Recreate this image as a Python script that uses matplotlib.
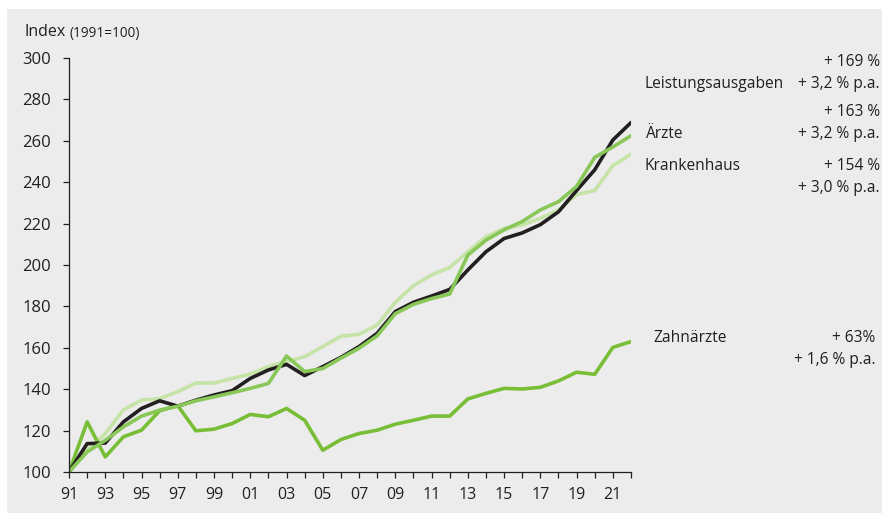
import matplotlib
matplotlib.use("Agg")
import matplotlib.pyplot as plt
from matplotlib.patches import Rectangle

plt.rcParams['font.family'] = ['Open Sans', 'DejaVu Sans']

years = list(range(1991, 2023))
leistungsausgaben = [100, 113.7, 114, 124.2, 130.7, 134.4, 131.8, 134.7, 137.2, 139.3,
                     145.2, 149.3, 152, 146.6, 150.9, 155.4, 160.6, 167, 177.5, 182,
                     185, 188.2, 197.6, 206.4, 212.8, 215.5, 219.5, 225.7, 236, 246,
                     260.4, 268.8]
aerzte = [100, 109.7, 115.3, 121.8, 127, 129.9, 131.8, 134.4, 136.3, 138.3,
          140.4, 142.8, 156, 148.5, 150, 155, 159.8, 165.8, 176.5, 181,
          183.8, 186, 204.8, 212, 217, 221, 226.6, 230.6, 238, 252,
          257, 262.5]
krankenhaus = [100, 110.5, 118.5, 130, 134.7, 135.5, 138.8, 143, 143, 145.2,
               147.3, 151, 153.3, 155.7, 160.6, 165.6, 166.5, 171, 182, 190,
               195.2, 198.8, 206.4, 213.7, 217.7, 219.3, 222.5, 226.6, 234, 236,
               248, 253.5]
zahnaerzte = [100, 124.2, 107.3, 117, 120.2, 129.6, 132, 119.9, 120.7, 123.4,
              127.8, 126.7, 130.7, 125, 110.5, 115.7, 118.6, 120.2, 123.1, 125,
              127, 127, 135.3, 138, 140.4, 140.1, 140.9, 144, 148.2, 147.2,
              160.2, 163]
yticks = [100, 120, 140, 160, 180, 200, 220, 240, 260, 280, 300]
xlabel_years = list(range(1991, 2023, 2))

W, H = 882, 513
fig = plt.figure(figsize=(W / 100, H / 100), dpi=100)
fig.patch.set_facecolor('white')
bg = Rectangle((7 / W, 0), 1 - 7 / W, 1 - 9 / H, transform=fig.transFigure,
               facecolor='#ececec', edgecolor='none', zorder=-10)
fig.patches.append(bg)

ax = fig.add_axes([69 / W, 1 - 472 / H, (631 - 69) / W, (472 - 58) / H])
ax.set_zorder(2)
ax.set_facecolor('none')
ax.set_xlim(1991, 2022)
ax.set_ylim(100, 300)

lw = 2.6
ax.plot(years, krankenhaus, color='#c6e3a8', lw=lw, solid_capstyle='round', zorder=2)
ax.plot(years, zahnaerzte, color='#78be36', lw=lw, solid_capstyle='round', zorder=3)
ax.plot(years, leistungsausgaben, color='#231f20', lw=lw, solid_capstyle='round', zorder=4)
ax.plot(years, aerzte, color='#88c758', lw=lw, solid_capstyle='round', zorder=5)

for s in ['top', 'right']:
    ax.spines[s].set_visible(False)
for s in ['left', 'bottom']:
    ax.spines[s].set_color('#231f20')
    ax.spines[s].set_linewidth(0.9)
    ax.spines[s].set_zorder(6)

ax.set_yticks(yticks)
ax.set_yticklabels([str(v) for v in yticks])
ax.set_xticks(years)
ax.set_xticklabels([f"{y % 100:02d}" if y in xlabel_years else "" for y in years])
ax.tick_params(axis='both', direction='out', length=4, width=0.9, color='#231f20',
               labelcolor='#231f20')
ax.tick_params(axis='y', pad=9, labelsize=12)
ax.tick_params(axis='x', pad=7, labelsize=11.5)

def px(x, y):
    return x / W, 1 - y / H

tc = '#231f20'
fs = 11.2
fig.text(*px(24, 32), "Index", fontsize=11.5, color=tc, va='center', ha='left')
fig.text(*px(69, 33), "(1991=100)", fontsize=9.8, color=tc, va='center', ha='left')

right = 880
labels = [
    (645, 84, "Leistungsausgaben"),
    (646, 134, "Ärzte"),
    (644, 166, "Krankenhaus"),
    (653, 338, "Zahnärzte"),
]
for x, y, s in labels:
    fig.text(*px(x, y), s, fontsize=fs, color=tc, va='center', ha='left')
values = [
    (right, 62, "+ 169 %"),
    (right, 84, "+ 3,2 % p.a."),
    (right, 112, "+ 163 %"),
    (right, 134, "+ 3,2 % p.a."),
    (right, 166, "+ 154 %"),
    (right, 188, "+ 3,0 % p.a."),
    (875, 338, "+ 63%"),
    (875, 360, "+ 1,6 % p.a."),
]
for x, y, s in values:
    fig.text(*px(x, y), s, fontsize=fs, color=tc, va='center', ha='right')

fig.savefig('out.png', dpi=100, facecolor='white')
